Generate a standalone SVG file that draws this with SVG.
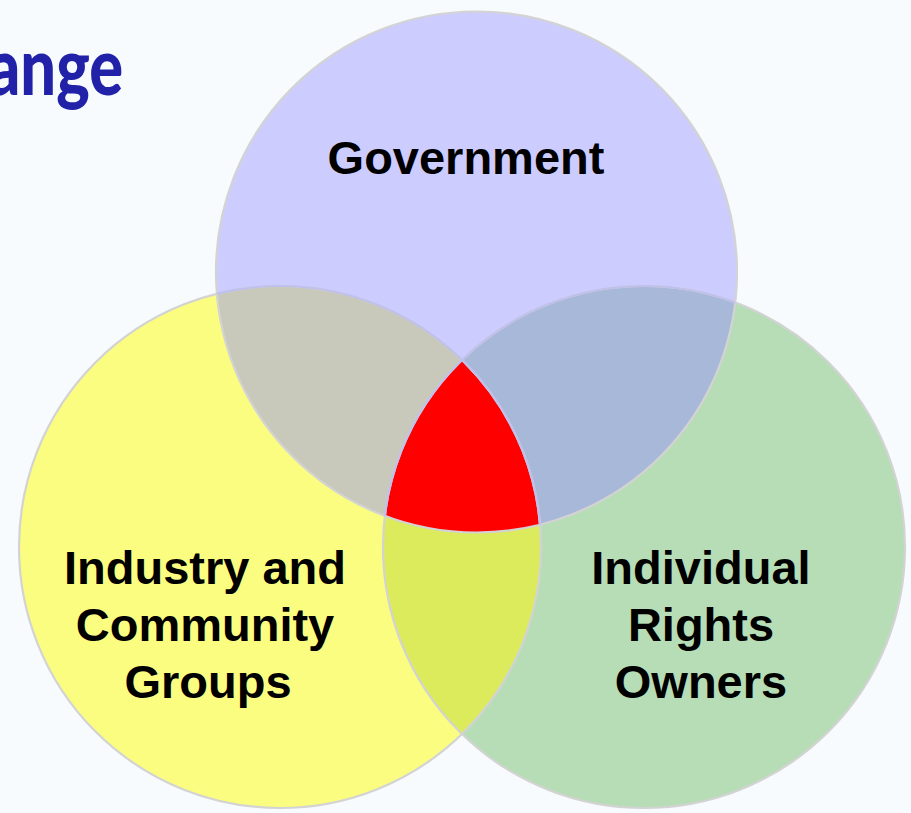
<svg xmlns="http://www.w3.org/2000/svg" width="911" height="813" viewBox="0 0 911 813">
  <style>
    .label { font-family: "Liberation Sans", Arial, sans-serif; font-weight: bold; font-size: 47px; fill: #000; text-anchor: middle; }
    .title { font-family: Lato, "Open Sans", sans-serif; font-weight: 900; font-size: 80px; fill: #2222a8; }
    .outline { fill: none; stroke: #d3d3d3; stroke-width: 2.2; }
    .outline-in { fill: none; stroke: #c0c0ec; stroke-width: 2.2; }
  </style>
  <defs>
    <circle id="c-gov" cx="476.5" cy="272" r="260.5"/>
    <circle id="c-ind" cx="280" cy="547" r="261"/>
    <circle id="c-own" cx="644" cy="547" r="261"/>
    <clipPath id="clip-gov"><use href="#c-gov"/></clipPath>
    <clipPath id="clip-ind"><use href="#c-ind"/></clipPath>
    <clipPath id="clip-own"><use href="#c-own"/></clipPath>
  </defs>

  <rect width="911" height="813" fill="#f7fbfd"/>

  <!-- slide title, running off the left edge -->
  <text class="title" x="-12" y="95" textLength="135" lengthAdjust="spacingAndGlyphs">ange</text>

  <g id="industry">
    <use href="#c-ind" fill="#fbfd80"/>
    <text class="label" x="205" y="584">Industry and</text>
    <text class="label" x="205" y="641">Community</text>
    <text class="label" x="208" y="698">Groups</text>
  </g>

  <g id="owners">
    <use href="#c-own" fill="#b6ddb6"/>
    <text class="label" x="701" y="584">Individual</text>
    <text class="label" x="701" y="641">Rights</text>
    <text class="label" x="701" y="698">Owners</text>
  </g>

  <g id="government">
    <use href="#c-gov" fill="#ccccff"/>
    <text class="label" x="466" y="174">Government</text>
  </g>

  <!-- pairwise overlaps -->
  <g id="overlaps">
    <use href="#c-gov" fill="#c8c9bb" clip-path="url(#clip-ind)"/>
    <use href="#c-gov" fill="#a8b8d8" clip-path="url(#clip-own)"/>
    <g clip-path="url(#clip-own)">
      <use href="#c-ind" fill="#dbeb5c"/>
    </g>
  </g>

  <!-- shared centre of all three -->
  <g id="core">
    <path d="M462,360 A261,261 0 0 0 385,516 A260.5,260.5 0 0 0 540,525 A261,261 0 0 0 462,360 Z" fill="#ff0000"/>
  </g>

  <g id="outlines">
    <use href="#c-ind" class="outline"/>
    <use href="#c-own" class="outline"/>
    <use href="#c-gov" class="outline"/>
    <g clip-path="url(#clip-gov)">
      <use href="#c-ind" class="outline-in"/>
      <use href="#c-own" class="outline-in"/>
    </g>
  </g>
</svg>
